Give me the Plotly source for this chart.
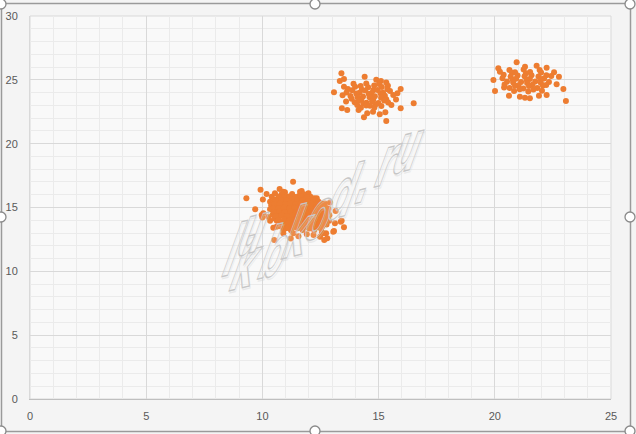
import plotly.graph_objects as go

# ---------------- data ----------------
cluster1_x = [
    11.32, 9.92, 9.31, 9.69, 10.74, 10.18, 10.02, 9.97, 10.00, 10.33,
    10.51, 11.22, 11.91, 12.48, 12.66, 12.74, 13.08, 13.51, 13.41, 13.15,
    12.91, 12.23, 11.69, 10.97, 10.40, 10.61, 10.47, 10.33, 10.90, 13.37,
    12.79, 12.56, 10.54, 10.90, 11.62, 11.98, 12.34, 12.69, 12.84, 13.12,
    13.05, 12.62, 11.33, 10.90, 10.25, 10.04, 11.55, 12.20,
    10.82, 11.07, 11.28, 11.57, 11.79, 12.07,
    10.53, 10.80, 11.02, 11.23, 11.50, 11.68, 11.97, 12.18,
    10.43, 10.72, 10.90, 11.17, 11.36, 11.62, 11.83, 12.10, 12.28, 12.57,
    10.38, 10.64, 10.83, 11.10, 11.28, 11.54, 11.73, 12.00, 12.18, 12.47, 12.66,
    10.33, 10.60, 10.78, 11.04, 11.23, 11.50, 11.68, 11.94, 12.13, 12.40, 12.58, 12.84,
    10.44, 10.63, 10.90, 11.08, 11.34, 11.53, 11.80, 11.98, 12.24, 12.43, 12.70, 12.88,
    10.52, 10.70, 10.97, 11.16, 11.42, 11.60, 11.87, 12.06, 12.32, 12.50, 12.77,
    10.62, 10.80, 11.07, 11.26, 11.52, 11.70, 11.97, 12.16, 12.42, 12.60, 12.87,
    10.77, 10.96, 11.22, 11.40, 11.67, 11.86, 12.12, 12.30, 12.57, 12.76,
    11.02, 11.23, 11.52, 11.73, 12.02, 12.23, 12.52,
    11.15, 11.40, 11.60, 11.00, 11.85, 11.30, 10.95, 12.00, 11.65, 11.25,
    10.85, 12.25, 12.05, 11.45, 10.70,
    10.70, 10.95, 11.18, 11.42, 11.66, 11.92,
    10.58, 10.82, 11.05, 11.28, 11.50, 11.73, 11.96, 12.20, 12.42,
    10.52, 10.75, 10.98, 11.20, 11.43, 11.65, 11.88, 12.10, 12.33, 12.58,
    10.48, 10.70, 10.92, 11.16, 11.38, 11.62, 11.85, 12.08, 12.30, 12.52, 12.75,
    10.48, 10.72, 10.96, 11.20, 11.44, 11.67, 11.90, 12.12, 12.34, 12.56, 12.78,
    10.58, 10.82, 11.05, 11.28, 11.52, 11.75, 11.98, 12.20, 12.42, 12.64,
    10.70, 10.93, 11.16, 11.40, 11.62, 11.85, 12.08, 12.30, 12.52, 12.73,
    10.88, 11.10, 11.32, 11.55, 11.78, 12.00, 12.22, 12.44, 12.66,
    11.12, 11.38, 11.62, 11.88, 12.14, 12.40,
]
cluster1_y = [
    17.02, 16.40, 15.72, 14.86, 16.45, 16.05, 15.62, 14.41, 14.22, 15.46,
    12.45, 12.58, 12.90, 12.71, 12.45, 12.98, 13.16, 13.45, 13.97, 14.73,
    15.40, 15.72, 16.29, 16.19, 15.85, 13.50, 13.42, 13.97, 12.98, 13.89,
    12.59, 13.05, 16.11, 16.24, 16.24, 16.11, 15.72, 15.32, 14.54, 13.76,
    13.10, 12.98, 12.98, 13.24, 14.28, 14.54, 12.75, 12.85,
    16.02, 15.86, 16.05, 15.90, 16.03, 15.84,
    15.62, 15.79, 15.63, 15.80, 15.61, 15.77, 15.63, 15.55,
    15.33, 15.50, 15.31, 15.48, 15.37, 15.29, 15.51, 15.35, 15.49, 15.31,
    15.17, 15.00, 15.19, 15.03, 15.20, 15.01, 15.16, 14.99, 15.18, 15.02, 15.15,
    14.87, 14.71, 14.89, 14.73, 14.86, 14.70, 14.90, 14.74, 14.88, 14.69, 14.85, 14.91,
    14.43, 14.59, 14.41, 14.57, 14.42, 14.60, 14.44, 14.39, 14.58, 14.42, 14.56, 14.40,
    14.13, 14.29, 14.11, 14.27, 14.14, 14.30, 14.10, 14.26, 14.12, 14.28, 14.13,
    13.97, 13.81, 13.99, 13.83, 13.96, 13.80, 13.98, 13.82, 13.95, 13.79, 13.97,
    13.53, 13.69, 13.51, 13.67, 13.54, 13.68, 13.50, 13.66, 13.52, 13.67,
    13.37, 13.22, 13.38, 13.23, 13.36, 13.21, 13.35,
    14.95, 14.65, 14.35, 14.35, 14.65, 15.25, 15.55, 15.25, 14.05, 14.05,
    14.65, 14.35, 13.75, 13.75, 15.00,
    15.85, 15.80, 15.87, 15.83, 15.88, 15.81,
    15.52, 15.58, 15.55, 15.60, 15.52, 15.58, 15.50, 15.57, 15.45,
    15.26, 15.30, 15.25, 15.32, 15.27, 15.33, 15.24, 15.30, 15.26, 15.22,
    14.96, 14.94, 14.99, 14.93, 14.98, 14.92, 14.97, 14.93, 14.99, 14.94, 14.97,
    14.64, 14.68, 14.62, 14.67, 14.63, 14.69, 14.61, 14.66, 14.62, 14.67, 14.63,
    14.34, 14.38, 14.31, 14.36, 14.32, 14.37, 14.30, 14.35, 14.31, 14.37,
    14.03, 14.07, 14.00, 14.05, 14.01, 14.06, 13.99, 14.04, 14.00, 14.05,
    13.72, 13.76, 13.70, 13.75, 13.71, 13.76, 13.70, 13.74, 13.78,
    13.45, 13.48, 13.44, 13.47, 13.43, 13.46,
]

cluster2_x = [
    13.40, 13.33, 13.51, 13.51, 13.08, 14.40, 15.33, 15.40, 15.95, 15.81,
    16.51, 15.95, 15.29, 15.33, 14.37, 14.51, 13.42, 13.65, 14.76, 15.05,
    15.55, 14.14, 13.60, 13.45, 15.75, 14.90, 15.10,
    13.92, 14.23, 14.47, 14.81, 15.02,
    13.68, 13.99, 14.28, 14.55, 14.77, 15.14, 15.38,
    13.62, 13.86, 14.18, 14.43, 14.69, 14.96, 15.19, 15.49,
    13.79, 14.04, 14.33, 14.58, 14.84, 15.08, 15.27, 15.63,
    13.84, 14.09, 14.26, 14.61, 14.77, 15.11, 15.33,
    13.97, 14.16, 14.48, 14.72, 14.99, 15.24, 15.41,
    14.08, 14.34, 14.63, 14.87, 15.12,
    14.24, 14.47, 14.82,
]
cluster2_y = [
    25.51, 24.91, 25.06, 24.46, 24.02, 25.25, 24.80, 24.54, 24.28, 23.95,
    23.16, 22.77, 22.46, 21.77, 22.06, 22.38, 22.77, 22.64, 22.50, 22.30,
    23.03, 22.64, 23.30, 23.80, 23.45, 25.00, 24.90,
    24.70, 24.52, 24.71, 24.55, 24.68,
    24.29, 24.45, 24.22, 24.41, 24.19, 24.44, 24.26,
    24.01, 24.19, 23.98, 24.17, 23.95, 24.21, 23.99, 24.12,
    23.74, 23.92, 23.70, 23.89, 23.71, 23.94, 23.76, 23.81,
    23.51, 23.66, 23.49, 23.63, 23.44, 23.59, 23.48,
    23.25, 23.41, 23.21, 23.33, 23.18, 23.39, 23.22,
    23.02, 23.14, 22.97, 23.06, 22.95,
    22.82, 22.99, 22.84,
]

cluster3_x = [
    20.94, 20.15, 20.22, 19.94, 20.01, 21.30, 22.23, 22.76, 22.66, 22.95,
    23.06, 22.23, 20.61, 21.08, 21.30, 21.51, 22.55, 21.80, 20.40, 21.90,
    20.63, 20.87, 21.24, 21.52, 21.93,
    20.38, 20.74, 20.98, 21.34, 21.58, 21.99, 22.22,
    20.33, 20.68, 20.92, 21.28, 21.51, 21.88, 22.12, 22.43,
    20.53, 20.77, 21.13, 21.37, 21.74, 21.97, 22.33,
    20.42, 20.79, 21.02, 21.39, 21.62, 21.98, 22.21,
    20.64, 20.87, 21.23, 21.47, 21.83, 22.07,
    20.83, 21.07, 21.44, 21.66, 22.03,
]
cluster3_y = [
    26.37, 25.90, 25.64, 24.99, 24.12, 26.03, 25.95, 25.25, 24.65, 24.28,
    23.34, 23.81, 23.76, 23.68, 23.60, 23.55, 25.60, 26.10, 24.40, 23.75,
    25.78, 25.59, 25.81, 25.62, 25.77,
    25.39, 25.55, 25.33, 25.52, 25.36, 25.57, 25.35,
    25.12, 25.27, 25.08, 25.29, 25.06, 25.26, 25.10, 25.31,
    24.86, 25.03, 24.83, 25.01, 24.87, 25.06, 24.84,
    24.63, 24.79, 24.58, 24.76, 24.61, 24.78, 24.59,
    24.36, 24.54, 24.33, 24.52, 24.37, 24.55,
    24.13, 24.27, 24.09, 24.25, 24.14,
]

x_ticks = [0, 5, 10, 15, 20, 25]
y_ticks = [0, 5, 10, 15, 20, 25, 30]
watermark = "klubkod.ru"

# ---------------- figure ----------------
W, H = 636, 434
ML, MR, MT, MB = 30, 25, 16, 35
PW, PH = W - ML - MR, H - MT - MB


def px(xp):
    return (xp - ML) / PW


def py(yp):
    return (H - MB - yp) / PH


all_x = cluster1_x + cluster2_x + cluster3_x
all_y = cluster1_y + cluster2_y + cluster3_y

fig = go.Figure()
fig.add_trace(go.Scatter(
    x=all_x, y=all_y, mode="markers",
    marker=dict(color="#ED7D31", size=6, line=dict(width=0)),
    showlegend=False, hoverinfo="x+y",
))

grid_major = "#d9d9d9"
grid_minor = "#ebebeb"
tick_font = dict(family="Liberation Sans, Arial, sans-serif", size=11, color="#595959")

fig.update_xaxes(
    range=[0, 25], tickvals=x_ticks, ticktext=[str(v) for v in x_ticks],
    showgrid=True, gridcolor=grid_major, gridwidth=1,
    minor=dict(dtick=1, showgrid=True, gridcolor=grid_minor, gridwidth=1),
    zeroline=False, showline=True, linecolor="#bfbfbf", linewidth=1,
    ticks="", tickfont=tick_font, ticklabelstandoff=7, automargin=False,
    fixedrange=True,
)
fig.update_yaxes(
    range=[0, 30], tickvals=y_ticks, ticktext=[str(v) for v in y_ticks],
    showgrid=True, gridcolor=grid_major, gridwidth=1,
    minor=dict(dtick=1, showgrid=True, gridcolor=grid_minor, gridwidth=1),
    zeroline=False, showline=True, linecolor="#d9d9d9", linewidth=1,
    ticks="", tickfont=tick_font, ticklabelstandoff=9, automargin=False,
    fixedrange=True,
)

shapes = []
# plot-area border
shapes.append(dict(type="rect", xref="paper", yref="paper", x0=0, x1=1, y0=0, y1=1,
                   line=dict(color="#d9d9d9", width=1), fillcolor="rgba(0,0,0,0)", layer="below"))
# chart selection frame
shapes.append(dict(type="rect", xref="paper", yref="paper",
                   x0=px(1.5), x1=px(630.5), y0=py(431.5), y1=py(3.5),
                   line=dict(color="#9a9a9a", width=1.5), fillcolor="rgba(0,0,0,0)"))
# selection handles
r = 5
for hx, hy in [(1, 4), (315, 4), (630, 4), (1, 217), (630, 217),
               (1, 431), (315, 431), (630, 431)]:
    shapes.append(dict(type="circle", xref="paper", yref="paper",
                       x0=px(hx - r), x1=px(hx + r), y0=py(hy + r), y1=py(hy - r),
                       line=dict(color="#8a8a8a", width=1.3), fillcolor="white"))

# watermark letters (hollow, outlined, slanted)
letter_pos = [(214, 308), (234, 292), (255, 273), (276, 252), (299, 232),
              (321, 214), (345, 193), (367, 178), (389, 161), (410, 147)]
annotations = []
for ch, (lx, ly) in zip(watermark, letter_pos):
    annotations.append(dict(
        text=ch, xref="paper", yref="paper", x=px(lx), y=py(ly),
        showarrow=False, textangle=-14,
        font=dict(family="DejaVu Sans, Liberation Sans", size=64,
                  color="rgba(255,255,255,0.3)", weight="bold"),
    ))

fig.update_layout(
    width=W, height=H,
    margin=dict(l=ML, r=MR, t=MT, b=MB, pad=0),
    paper_bgcolor="#f4f4f4", plot_bgcolor="#f9f9f9",
    shapes=shapes, annotations=annotations,
    showlegend=False,
)

post = """
document.body.style.margin = '0';
document.body.style.padding = '0';
var gd = document.getElementById('{plot_id}');
function wmStyle(){
  gd.querySelectorAll('.annotation-text').forEach(function(t){
    t.style.fill = 'rgba(255,255,255,0.3)';
    t.style.stroke = '#c6c6c6';
    t.style.strokeWidth = '1.3px';
    t.style.textShadow = '3px 2px 0 rgba(205,205,205,0.35)';
    t.style.transformBox = 'fill-box';
    t.style.transformOrigin = '50% 50%';
    t.style.transform = 'skewX(-34deg) scaleX(0.55)';
  });
}
wmStyle();
gd.on('plotly_afterplot', wmStyle);
"""

fig.write_html("out.html", post_script=post, config={"displayModeBar": False})
